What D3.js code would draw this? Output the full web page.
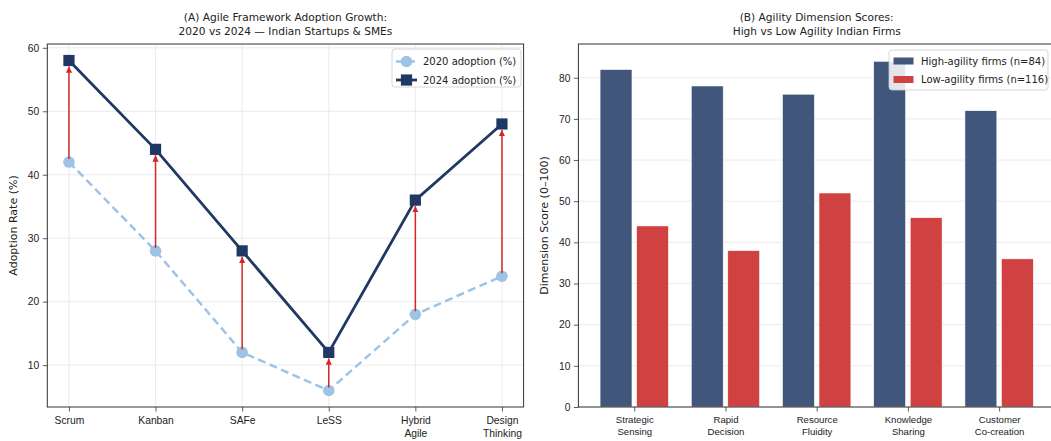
<!DOCTYPE html>
<html><head><meta charset="utf-8">
<script src="https://cdn.jsdelivr.net/npm/d3@7"></script>
<style>
body{margin:0;background:#fff;}
svg{font-family:"DejaVu Sans",sans-serif;display:block;}
</style></head><body>
<svg id="c" width="1051" height="441"></svg>
<script>
// ---- data ----
const frameworks = ["Scrum","Kanban","SAFe","LeSS","Hybrid\nAgile","Design\nThinking"];
const adoption2020 = [42,28,12,6,18,24];
const adoption2024 = [58,44,28,12,36,48];
const leftYTicks = [10,20,30,40,50,60];

const dimensions = ["Strategic\nSensing","Rapid\nDecision","Resource\nFluidity","Knowledge\nSharing","Customer\nCo-creation"];
const highAgility = [82,78,76,84,72];
const lowAgility = [44,38,52,46,36];
const rightYTicks = [0,10,20,30,40,50,60,70,80];

const seriesNamesA = ["2020 adoption (%)","2024 adoption (%)"];
const seriesNamesB = ["High-agility firms (n=84)","Low-agility firms (n=116)"];

// ---- styles ----
const C2020 = "#9dc3e6", C2024 = "#1f3864", CARROW = "#d62728";
const CHIGH = "#40567b", CLOW = "#d04242";
const GRID = "#e6e6e6", SPINE = "#333";

const svg = d3.select("#c");
const plotTop = 44, plotBottom = 407;

function multiline(sel, lh){
  sel.each(function(){
    const t = d3.select(this);
    const lines = t.text().split("\n");
    t.text(null);
    lines.forEach((l,i)=>t.append("tspan").attr("x",0).attr("dy", i===0? "0.71em" : lh).text(l));
  });
}

// ================= Panel A =================
(function(){
  const x = d3.scaleLinear().domain([-0.25, 5.25]).range([47.3, 523.6]);
  const y = d3.scaleLinear().domain([3.4, 60.6]).range([plotBottom, plotTop]);
  const g = svg.append("g");
  const idx = frameworks.map((d,i)=>i);

  g.selectAll(".gy").data(leftYTicks).join("line")
    .attr("x1",x.range()[0]).attr("x2",x.range()[1])
    .attr("y1",d=>y(d)).attr("y2",d=>y(d)).attr("stroke",GRID).attr("stroke-width",0.8);
  g.selectAll(".gx").data(idx).join("line")
    .attr("x1",d=>x(d)).attr("x2",d=>x(d))
    .attr("y1",plotTop).attr("y2",plotBottom).attr("stroke",GRID).attr("stroke-width",0.8);

  const ya = g.append("g").attr("transform",`translate(${x.range()[0]},0)`)
    .call(d3.axisLeft(y).tickValues(leftYTicks).tickSize(4.5).tickPadding(3.5).tickFormat(d3.format("d")));
  const xa = g.append("g").attr("transform",`translate(0,${plotBottom})`)
    .call(d3.axisBottom(x).tickValues(idx).tickSize(4.5).tickPadding(5).tickFormat(i=>frameworks[i]));
  [ya,xa].forEach(a=>{a.select(".domain").remove();a.selectAll("text").attr("font-size",10.3).attr("fill","#222");a.selectAll("line").attr("stroke",SPINE).attr("stroke-width",0.8);});
  xa.selectAll("text").call(multiline,"1.25em");

  const lineGen = d3.line().x((d,i)=>x(i)).y(d=>y(d));
  g.append("path").datum(adoption2020).attr("d",lineGen).attr("fill","none")
    .attr("stroke",C2020).attr("stroke-width",2.5).attr("stroke-dasharray","8,4.5");
  g.append("path").datum(adoption2024).attr("d",lineGen).attr("fill","none")
    .attr("stroke",C2024).attr("stroke-width",2.8);
  g.selectAll(".m20").data(adoption2020).join("circle")
    .attr("cx",(d,i)=>x(i)).attr("cy",d=>y(d)).attr("r",5.8).attr("fill",C2020);
  g.selectAll(".m24").data(adoption2024).join("rect")
    .attr("x",(d,i)=>x(i)-5.6).attr("y",d=>y(d)-5.6).attr("width",11.2).attr("height",11.2).attr("fill",C2024);

  svg.append("defs").append("marker").attr("id","ah").attr("viewBox","0 0 10 10")
    .attr("refX",10).attr("refY",5).attr("markerWidth",4.2).attr("markerHeight",4.2)
    .attr("markerUnits","strokeWidth").attr("orient","auto")
    .append("path").attr("d","M0,0 L10,5 L0,10 z").attr("fill",CARROW);
  g.selectAll(".ar").data(adoption2020).join("line")
    .attr("x1",(d,i)=>x(i)).attr("x2",(d,i)=>x(i))
    .attr("y1",d=>y(d)-3).attr("y2",(d,i)=>y(adoption2024[i])+6)
    .attr("stroke",CARROW).attr("stroke-width",1.5).attr("marker-end","url(#ah)");

  g.append("rect").attr("x",x.range()[0]).attr("y",plotTop).attr("width",x.range()[1]-x.range()[0]).attr("height",plotBottom-plotTop)
    .attr("fill","none").attr("stroke",SPINE).attr("stroke-width",1);

  const cx = (x.range()[0]+x.range()[1])/2;
  g.append("text").attr("x",cx).attr("y",21).attr("text-anchor","middle").attr("font-size",10.6).attr("fill","#222").text("(A) Agile Framework Adoption Growth:");
  g.append("text").attr("x",cx).attr("y",35).attr("text-anchor","middle").attr("font-size",10.6).attr("fill","#222").text("2020 vs 2024 — Indian Startups & SMEs");
  g.append("text").attr("transform",`translate(17,${(plotTop+plotBottom)/2}) rotate(-90)`).attr("text-anchor","middle")
    .attr("font-size",11).attr("fill","#222").text("Adoption Rate (%)");

  const lg = g.append("g").attr("transform","translate(392,49)");
  lg.append("rect").attr("width",129).attr("height",38).attr("rx",3).attr("fill","#fff").attr("fill-opacity",0.85).attr("stroke","#ccc").attr("stroke-width",0.8);
  seriesNamesA.forEach((n,i)=>{
    const yy = 12.5 + i*18.5;
    const col = i===0?C2020:C2024;
    lg.append("line").attr("x1",4).attr("x2",25).attr("y1",yy).attr("y2",yy).attr("stroke",col).attr("stroke-width",i===0?2.5:2.8).attr("stroke-dasharray",i===0?"5,2":null);
    if(i===0) lg.append("circle").attr("cx",14.5).attr("cy",yy).attr("r",5.8).attr("fill",col);
    else lg.append("rect").attr("x",14.5-5.6).attr("y",yy-5.6).attr("width",11.2).attr("height",11.2).attr("fill",col);
    lg.append("text").attr("x",31).attr("y",yy).attr("dy","0.35em").attr("font-size",10).attr("fill","#222").text(n);
  });
})();

// ================= Panel B =================
(function(){
  const x = d3.scaleLinear().domain([-0.6125, 4.6125]).range([578.4, 1055]);
  const y = d3.scaleLinear().domain([0, 88.2]).range([plotBottom, plotTop]);
  const g = svg.append("g");
  const idx = dimensions.map((d,i)=>i);
  const bw = 0.35, off = 0.2;
  const pxw = x(bw)-x(0);

  g.selectAll(".gy").data(rightYTicks).join("line")
    .attr("x1",x.range()[0]).attr("x2",x.range()[1])
    .attr("y1",d=>y(d)).attr("y2",d=>y(d)).attr("stroke",GRID).attr("stroke-width",0.8);

  const ya = g.append("g").attr("transform",`translate(${x.range()[0]},0)`)
    .call(d3.axisLeft(y).tickValues(rightYTicks).tickSize(4.5).tickPadding(3.5).tickFormat(d3.format("d")));
  const xa = g.append("g").attr("transform",`translate(0,${plotBottom})`)
    .call(d3.axisBottom(x).tickValues(idx).tickSize(4.5).tickPadding(5).tickFormat(i=>dimensions[i]));
  [ya,xa].forEach(a=>{a.select(".domain").remove();a.selectAll("line").attr("stroke",SPINE).attr("stroke-width",0.8);a.selectAll("text").attr("fill","#222");});
  ya.selectAll("text").attr("font-size",10.3);
  xa.selectAll("text").attr("font-size",9.6).call(multiline,"1.2em");

  g.selectAll(".bh").data(highAgility).join("rect")
    .attr("x",(d,i)=>x(i-off-bw/2)).attr("width",pxw)
    .attr("y",d=>y(d)).attr("height",d=>y(0)-y(d))
    .attr("fill",CHIGH).attr("stroke","#fff").attr("stroke-width",0.6);
  g.selectAll(".bl").data(lowAgility).join("rect")
    .attr("x",(d,i)=>x(i+off-bw/2)).attr("width",pxw)
    .attr("y",d=>y(d)).attr("height",d=>y(0)-y(d))
    .attr("fill",CLOW).attr("stroke","#fff").attr("stroke-width",0.6);

  g.append("rect").attr("x",x.range()[0]).attr("y",plotTop).attr("width",x.range()[1]-x.range()[0]).attr("height",plotBottom-plotTop)
    .attr("fill","none").attr("stroke",SPINE).attr("stroke-width",1);

  const cx = (x.range()[0]+x.range()[1])/2;
  g.append("text").attr("x",cx).attr("y",21).attr("text-anchor","middle").attr("font-size",10.6).attr("fill","#222").text("(B) Agility Dimension Scores:");
  g.append("text").attr("x",cx).attr("y",35).attr("text-anchor","middle").attr("font-size",10.6).attr("fill","#222").text("High vs Low Agility Indian Firms");
  g.append("text").attr("transform",`translate(548,${(plotTop+plotBottom)/2}) rotate(-90)`).attr("text-anchor","middle")
    .attr("font-size",11).attr("fill","#222").text("Dimension Score (0–100)");

  const lg = g.append("g").attr("transform","translate(889,50)");
  lg.append("rect").attr("width",159).attr("height",40).attr("rx",3).attr("fill","#fff").attr("fill-opacity",0.85).attr("stroke","#ccc").attr("stroke-width",0.8);
  seriesNamesB.forEach((n,i)=>{
    const yy = 11 + i*18.5;
    lg.append("rect").attr("x",4.5).attr("y",yy-3.5).attr("width",20).attr("height",7).attr("fill",i===0?CHIGH:CLOW);
    lg.append("text").attr("x",32).attr("y",yy).attr("dy","0.35em").attr("font-size",10).attr("fill","#222").text(n);
  });
})();
</script>
</body></html>
